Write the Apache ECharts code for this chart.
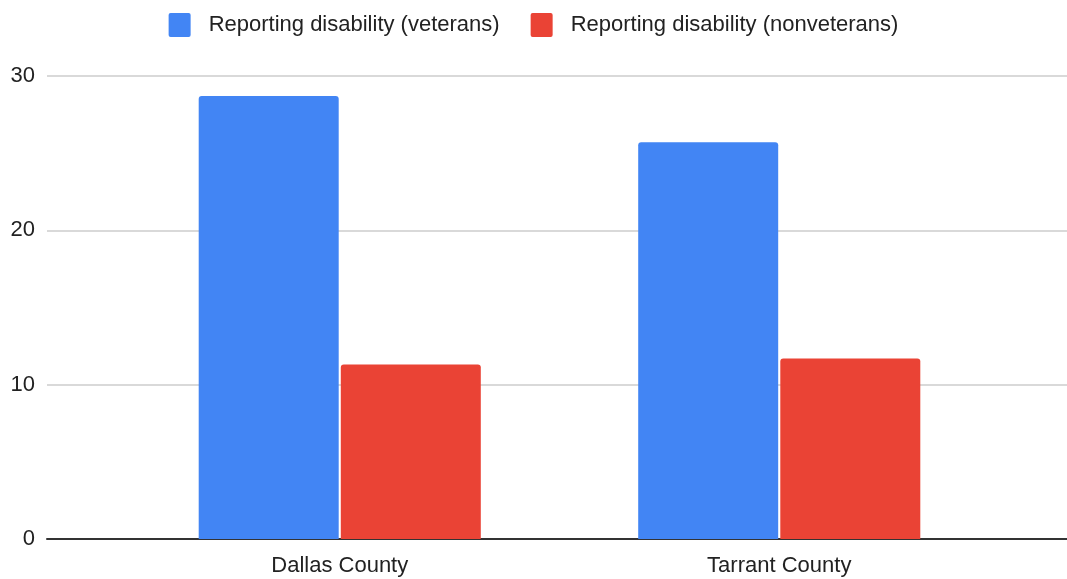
<!DOCTYPE html>
<html><head><meta charset="utf-8">
<script src="https://cdn.jsdelivr.net/npm/echarts@6/dist/echarts.min.js"></script>
<style>html,body{margin:0;padding:0;background:#fff}#c{width:1067px;height:579px}</style>
</head><body><div id="c"></div>
<script>
const categories = ['Dallas County', 'Tarrant County'];
const veterans = [28.7, 25.7];
const nonveterans = [11.3, 11.7];
const yTicks = [0, 10, 20, 30];
const seriesNames = ['Reporting disability (veterans)', 'Reporting disability (nonveterans)'];

const font = 'Liberation Sans, Arial, sans-serif';
const chart = echarts.init(document.getElementById('c'));
chart.setOption({
  animation: false,
  legend: {
    top: 8, left: 'center',
    itemWidth: 22, itemHeight: 24, itemGap: 31,
    icon: 'path://M2,0 L20,0 Q22,0 22,2 L22,22 Q22,24 20,24 L2,24 Q0,24 0,22 L0,2 Q0,0 2,0 Z',
    textStyle: { fontFamily: font, fontSize: 22, color: '#222', padding: [0, 0, 0, 13] },
    data: seriesNames
  },
  grid: [
    { left: 47, right: 0, top: 76, bottom: 40 },
    { left: 120, right: 68, top: 76, bottom: 40 }
  ],
  xAxis: [
    { gridIndex: 0, type: 'value', min: 0, max: 1, axisLabel: { show: false }, axisTick: { show: false }, splitLine: { show: false },
      axisLine: { show: true, lineStyle: { color: '#333', width: 2 } } },
    { gridIndex: 1, type: 'category', data: categories, axisTick: { show: false }, axisLine: { show: false },
      axisLabel: { fontFamily: font, fontSize: 22, color: '#222', margin: 16 } }
  ],
  yAxis: [
    { gridIndex: 0, type: 'value', min: yTicks[0], max: yTicks[yTicks.length - 1], interval: 10,
      axisLine: { show: false }, axisTick: { show: false },
      axisLabel: { fontFamily: font, fontSize: 22, color: '#222', margin: 12 },
      splitLine: { lineStyle: { color: '#cccccc', width: 1.5 } } },
    { gridIndex: 1, type: 'value', min: yTicks[0], max: yTicks[yTicks.length - 1], interval: 10,
      axisLine: { show: false }, axisTick: { show: false }, axisLabel: { show: false }, splitLine: { show: false } }
  ],
  series: [
    { name: seriesNames[0], type: 'bar', xAxisIndex: 1, yAxisIndex: 1, data: veterans,
      barWidth: 140, barGap: '1.5%', itemStyle: { color: '#4285f4', borderRadius: [3, 3, 0, 0] }, z: 1 },
    { name: seriesNames[1], type: 'bar', xAxisIndex: 1, yAxisIndex: 1, data: nonveterans,
      barWidth: 140, barGap: '1.5%', itemStyle: { color: '#ea4335', borderRadius: [3, 3, 0, 0] }, z: 1 }
  ]
});
</script></body></html>
